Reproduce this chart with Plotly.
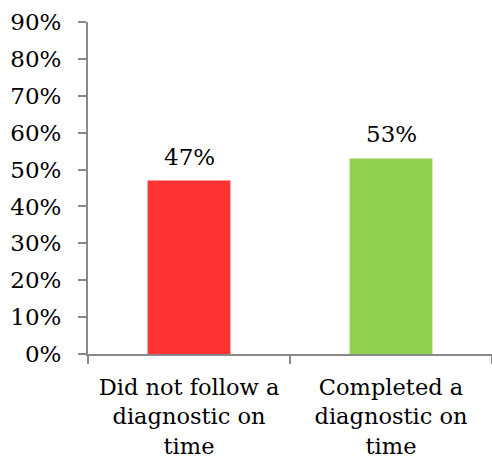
import plotly.graph_objects as go

categories = ["Did not follow a<br>diagnostic on<br>time", "Completed a<br>diagnostic on<br>time"]
values = [0.47, 0.53]
bar_colors = ["#FF3333", "#92D050"]
y_ticks = [0, 0.1, 0.2, 0.3, 0.4, 0.5, 0.6, 0.7, 0.8, 0.9]

font_family = "DejaVu Serif, serif"
font_size = 23

fig = go.Figure(
    go.Bar(
        x=categories,
        y=values,
        marker=dict(color=bar_colors, line=dict(width=0)),
        width=0.41,
    )
)

# value labels sit a little above each bar
for cat, val in zip(categories, values):
    fig.add_annotation(
        x=cat,
        y=val,
        text=f"{val:.0%}",
        showarrow=False,
        yanchor="bottom",
        yshift=9,
        font=dict(family=font_family, size=font_size, color="#000000"),
    )

axis_color = "#898989"

fig.update_layout(
    width=492,
    height=459,
    margin=dict(l=88, r=0, t=22, b=105),
    paper_bgcolor="white",
    plot_bgcolor="white",
    showlegend=False,
    font=dict(family=font_family, size=font_size, color="#000000"),
    xaxis=dict(
        type="category",
        showline=True,
        linecolor=axis_color,
        linewidth=2,
        ticks="outside",
        tickson="boundaries",
        ticklen=8,
        tickwidth=2,
        tickcolor=axis_color,
        showgrid=False,
        ticklabelstandoff=12,
        tickfont=dict(family=font_family, size=22.5, color="#000000"),
    ),
    yaxis=dict(
        range=[0, 0.9],
        tickvals=y_ticks,
        tickformat=".0%",
        showline=True,
        linecolor=axis_color,
        linewidth=2,
        ticks="outside",
        ticklen=8,
        tickwidth=2,
        tickcolor=axis_color,
        showgrid=False,
        zeroline=False,
        ticklabelstandoff=12,
        tickfont=dict(family=font_family, size=font_size, color="#000000"),
    ),
)

fig.write_html("out.html")
